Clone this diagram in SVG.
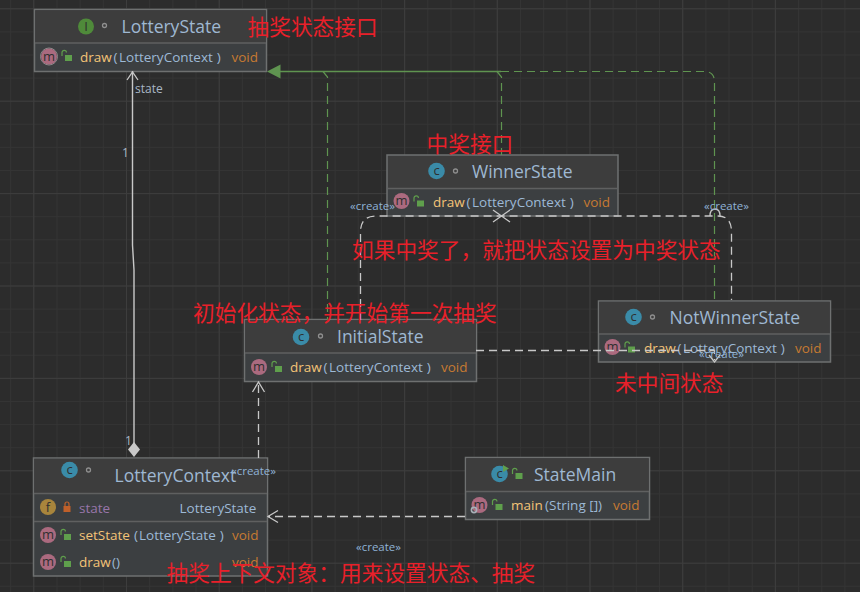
<svg xmlns="http://www.w3.org/2000/svg" width="860" height="592" viewBox="0 0 860 592">
<style>
.box{fill:#3c3f41;stroke:#6e7070;stroke-width:1.5}
.head{fill:#3d3d3d}
.sep{stroke:#5f6060;stroke-width:1.5}
text{font-family:"Open Sans","Noto Sans",sans-serif}
.title{font-size:17.5px;fill:#9fb8d2}
.name{font-size:13.5px;fill:#f3c377}
.par{font-size:13.5px;fill:#9db9d6}
.ret{font-size:13.5px;fill:#c67a31}
.fld{font-size:13.5px;fill:#9876aa}
.ic{font-size:13px;text-anchor:middle;fill:#2f2f2f}
.lab{font-size:12px;fill:#a9b7c6}
.st{font-size:11.5px;fill:#8fb2d6}
.note{font-family:"Noto Sans CJK SC",sans-serif;font-size:21.7px;fill:#e8202a}
.dash{fill:none;stroke:#c8c8c8;stroke-width:1.3;stroke-dasharray:8 5}
.gdash{fill:none;stroke:#5f9450;stroke-width:1.2;stroke-dasharray:8 5}
.open{fill:none;stroke:#c8c8c8;stroke-width:1.3}
</style>
<defs>
<pattern id="minor" width="23.175" height="23.1" patternUnits="userSpaceOnUse" x="33.3" y="8.3">
<path d="M0.5 0V23.1M0 0.5H23.175" stroke="#343434" stroke-width="1" fill="none"/>
</pattern>
<pattern id="major" width="92.7" height="92.4" patternUnits="userSpaceOnUse" x="33.3" y="8.3">
<path d="M0.5 0V92.4M0 0.5H92.7" stroke="#3d3d3d" stroke-width="1" fill="none"/>
</pattern>
<g id="open-lock"><path d="M-5 0v-3.5a2.2 2.2 0 0 1 4.4 0" fill="none" stroke="#5f9f4c" stroke-width="1.2"/><rect x="-2" y="-1" width="7" height="6" fill="#5f9f4c"/></g>
<g id="m-icon"><circle r="8" fill="#ab6a7f"/><text class="ic" y="4">m</text></g>
<g id="c-icon"><circle r="8.300" fill="#3a8ba8"/><text class="ic" y="4">c</text></g>
<circle id="dot" r="2" fill="none" stroke="#8f8f8f" stroke-width="1.3"/>
</defs>

<rect width="860" height="592" fill="#2c2c2c"/>
<rect width="860" height="592" fill="url(#minor)"/>
<rect width="860" height="592" fill="url(#major)"/>

<g id="LotteryState">
<rect class="box" x="34.500" y="9.500" width="232" height="62"/>
<rect class="head" x="35.250" y="10.250" width="230.500" height="32.750"/>
<path class="sep" d="M35 43H266"/>
<circle cx="86" cy="26.500" r="8" fill="#4f8a3a"/><text class="ic" x="86" y="31">I</text>
<use href="#dot" x="104.500" y="25.500"/>
<text class="title" x="121.500" y="33">LotteryState</text>
<circle cx="49" cy="56.500" r="8.500" fill="none" stroke="#8c8c8c" stroke-width="1"/>
<use href="#m-icon" x="49" y="56.500"/>
<use href="#open-lock" x="67" y="56"/>
<text class="name" x="80" y="62">draw</text><text class="par" x="113.500" y="62">(<tspan dx="1.500">LotteryContext</tspan><tspan dx="4">)</tspan></text><text class="ret" x="231.500" y="62">void</text>
</g>

<g id="WinnerState">
<rect class="box" x="387" y="155" width="231" height="61"/>
<rect class="head" x="388" y="156" width="229" height="32"/>
<path class="sep" d="M388 188.500H617"/>
<use href="#c-icon" x="436.500" y="171"/>
<use href="#dot" x="455.500" y="171"/>
<text class="title" x="472" y="177.500">WinnerState</text>
<use href="#m-icon" x="401.500" y="201"/>
<use href="#open-lock" x="419" y="201.500"/>
<text class="name" x="433" y="207">draw</text><text class="par" x="466.500" y="207">(<tspan dx="1.500">LotteryContext</tspan><tspan dx="4">)</tspan></text><text class="ret" x="583.500" y="207">void</text>
</g>

<g id="InitialState">
<rect class="box" x="244.500" y="319.500" width="232" height="62"/>
<rect class="head" x="245.250" y="320.250" width="230.500" height="32.750"/>
<path class="sep" d="M245 353H476"/>
<use href="#c-icon" x="301" y="337"/>
<use href="#dot" x="320.500" y="336"/>
<text class="title" x="337" y="343">InitialState</text>
<use href="#m-icon" x="259" y="367"/>
<use href="#open-lock" x="277" y="367"/>
<text class="name" x="290" y="372">draw</text><text class="par" x="323.500" y="372">(<tspan dx="1.500">LotteryContext</tspan><tspan dx="4">)</tspan></text><text class="ret" x="441" y="372">void</text>
</g>

<g id="NotWinnerState">
<rect class="box" x="598.500" y="301" width="232" height="61"/>
<rect class="head" x="599.250" y="301.750" width="230.500" height="32.250"/>
<path class="sep" d="M599 334H830"/>
<use href="#c-icon" x="633.500" y="317"/>
<use href="#dot" x="652.500" y="317"/>
<text class="title" x="669.500" y="324">NotWinnerState</text>
<use href="#m-icon" x="612.500" y="347"/>
<use href="#open-lock" x="630" y="347.500"/>
<text class="name" x="644" y="353">draw</text><text class="par" x="677.500" y="353">(<tspan dx="1.500">LotteryContext</tspan><tspan dx="4">)</tspan></text><text class="ret" x="795" y="353">void</text>
</g>

<g id="LotteryContext">
<rect class="box" x="33.500" y="458" width="234" height="118"/>
<rect class="head" x="34.250" y="458.750" width="232.500" height="34.250"/>
<path class="sep" d="M34 493.500H267M34 521.500H267"/>
<use href="#c-icon" x="69.500" y="470"/>
<use href="#dot" x="88.500" y="470"/>
<text class="title" x="114.500" y="482">LotteryContext</text>
<circle cx="48" cy="507" r="8" fill="#a8853c"/><text class="ic" x="48" y="511.500">f</text>
<rect x="63.500" y="506" width="7" height="6" fill="#c0602a"/><path d="M65 506v-2a2 2 0 0 1 4 0v2" fill="none" stroke="#c0602a" stroke-width="1.200"/>
<text class="fld" x="79" y="513">state</text><text class="par" x="179.500" y="513">LotteryState</text>
<use href="#m-icon" x="48" y="535"/>
<use href="#open-lock" x="66" y="535"/>
<text class="name" x="79" y="540">setState</text><text class="par" x="134" y="540">(<tspan dx="1">LotteryState</tspan><tspan dx="4">)</tspan></text><text class="ret" x="232" y="540">void</text>
<use href="#m-icon" x="48" y="562"/>
<use href="#open-lock" x="66" y="562"/>
<text class="name" x="79" y="567">draw</text><text class="par" x="112" y="567">()</text><text class="ret" x="232" y="567">void</text>
</g>

<g id="StateMain">
<rect class="box" x="465.500" y="457.500" width="184" height="62"/>
<rect class="head" x="466.250" y="458.250" width="182.500" height="32.750"/>
<path class="sep" d="M466 491.500H649"/>
<use href="#c-icon" x="499.500" y="474"/>
<path d="M503 465L509 468.500L503 472Z" fill="#5fa04e"/>
<use href="#open-lock" x="517.500" y="474"/>
<text class="title" x="534" y="481">StateMain</text>
<use href="#m-icon" x="479.500" y="505"/>
<circle cx="474" cy="510" r="2.600" fill="none" stroke="#a8b0b8" stroke-width="1.600"/>
<use href="#open-lock" x="497.500" y="505"/>
<text class="name" x="511" y="510">main</text><text class="par" x="545" y="510">(String [])</text><text class="ret" x="613" y="510">void</text>
</g>

<g id="connectors">
<!-- composition from the context up to the state interface -->
<path d="M132.500 71V245L134 270V444" fill="none" stroke="#c8c8c8" stroke-width="1.400"/>
<path class="open" d="M127 80L132.500 72L138 80"/>
<path d="M134 442L140 449.500L134 457L128 449.500Z" fill="#c8c8c8"/>
<!-- realisation arrows into LotteryState -->
<path d="M280 71.500H501" fill="none" stroke="#5f9450" stroke-width="1.300"/>
<path class="gdash" d="M501 71.500H704Q714.500 71.500 714.500 82V300"/>
<path class="gdash" d="M323 71.500L327.500 77V320"/>
<path class="gdash" d="M497 71.500L501.500 77V155"/>
<path d="M267 71.500L280.500 64.500V78.500Z" fill="#5f9450"/>
<!-- create dependencies -->
<path class="dash" d="M360.500 320V232Q360.500 216 376 216H718Q731.500 216 731.500 232V300"/>
<path class="open" d="M710 216Q710 209 715 209Q720 209 720 216"/>
<path class="open" d="M493 210L510 222M510 210L493 222" stroke-width="1.500"/>
<path class="dash" d="M476 350.500H714.500V360"/>
<path class="open" d="M709 355L714.500 362L720 355"/>
<path class="dash" d="M258.500 458V382"/>
<path class="open" d="M252.500 392L258.500 382L264.500 392" stroke-width="1.400"/>
<path class="dash" d="M465 516.500H268"/>
<path class="open" d="M278 510.500L268 516.500L278 522.500" stroke-width="1.400"/>
</g>

<g id="connector-labels">
<text class="lab" x="135" y="93">state</text>
<text class="lab" x="122" y="157">1</text>
<text class="lab" x="125" y="445">1</text>
<text class="st" x="350" y="210">«create»</text>
<text class="st" x="704" y="210">«create»</text>
<text class="st" x="699" y="358">«create»</text>
<text class="st" x="231" y="475">«create»</text>
<text class="st" x="356" y="551">«create»</text>
</g>

<g id="notes">
<text class="note" x="247.500" y="35">抽奖状态接口</text>
<text class="note" x="426.500" y="152">中奖接口</text>
<text class="note" x="352" y="258">如果中奖了，就把状态设置为中奖状态</text>
<text class="note" x="193" y="321">初始化状态，并开始第一次抽奖</text>
<text class="note" x="615" y="391">未中间状态</text>
<text class="note" x="166.500" y="581">抽奖上下文对象：用来设置状态、抽奖</text>
</g>
</svg>
